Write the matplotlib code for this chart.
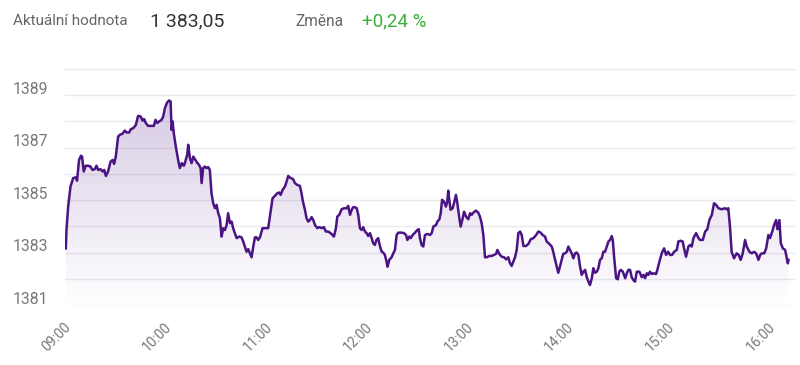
import numpy as np
import matplotlib
matplotlib.use("Agg")
import matplotlib.pyplot as plt
from matplotlib.patches import Polygon
from matplotlib import transforms

# ---- data (minutes after 09:00, index value) ----
minutes = [0, 0.4, 1.4, 2.8, 4.4, 6.0, 6.7, 7.9, 9.0, 9.7, 10.7, 11.9, 13.3, 14.7, 15.9, 17.3, 18.3, 19.3, 20.7, 21.9,
           22.9, 23.9, 25.2, 26.7, 27.9, 28.8, 29.8, 31.2, 32.2, 33.8, 35.2, 36.2, 37.8, 38.8, 40.2, 41.8, 43.1, 44.6, 45.8, 46.7,
           47.7, 49.1, 51.1, 52.5, 53.5, 54.5, 55.7, 57.1, 58.1, 59.1, 60.4, 61.6, 62.5, 63.1, 63.7, 64.4, 65.6, 67.0, 68.0, 69.2,
           70.4, 71.0, 72.4, 73.0, 74.0, 75.0, 76.0, 77.0, 78.3, 79.5, 80.4, 81.0, 81.9, 82.9, 83.9, 84.9, 85.9, 86.9, 87.9, 88.9,
           89.9, 90.9, 91.9, 92.9, 93.9, 94.9, 95.9, 96.8, 97.9, 98.9, 99.8, 100.8, 101.9, 103.4, 104.8, 105.8, 106.8, 107.8, 108.8, 109.8,
           110.8, 111.8, 112.8, 113.8, 114.7, 115.8, 117.3, 118.7, 120.7, 121.7, 123.3, 124.7, 126.1, 127.3, 128.1, 129.3, 130.7, 131.7, 132.6, 134.1,
           135.6, 136.6, 138.0, 139.6, 140.6, 141.2, 142.6, 143.6, 144.6, 145.6, 146.6, 147.6, 148.6, 150.0, 151.2, 152.6, 153.9, 155.1, 156.5, 157.9,
           159.1, 159.9, 161.1, 161.9, 163.1, 164.5, 165.9, 167.5, 168.4, 169.5, 170.5, 171.4, 172.4, 173.5, 174.4, 175.4, 176.4, 177.4, 178.4, 179.4,
           180.4, 181.4, 182.4, 183.3, 184.3, 185.3, 186.3, 187.4, 188.4, 189.3, 190.3, 191.3, 191.9, 192.9, 194.3, 195.3, 196.3, 197.3, 198.3, 200.3,
           201.7, 202.9, 203.7, 204.9, 205.7, 206.9, 208.3, 209.6, 210.5, 211.2, 212.2, 213.2, 214.2, 215.6, 217.2, 218.2, 219.2, 220.8, 221.6, 222.8,
           223.6, 224.4, 225.6, 226.7, 227.5, 228.1, 228.7, 229.5, 230.7, 231.5, 232.7, 233.5, 234.7, 235.5, 236.7, 237.5, 238.7, 240.0, 241.1, 242.1,
           243.0, 244.6, 246.0, 247.0, 248.0, 249.0, 250.0, 251.0, 252.6, 254.0, 255.4, 256.6, 257.4, 258.5, 260.0, 261.4, 262.6, 263.9, 264.9, 265.9,
           266.9, 267.9, 268.9, 269.9, 270.9, 271.9, 272.9, 274.5, 275.9, 277.3, 278.9, 280.5, 281.8, 283.2, 284.4, 285.8, 286.8, 288.4, 289.8, 290.7,
           291.8, 292.8, 293.7, 294.7, 295.7, 296.7, 297.7, 298.8, 299.7, 300.7, 301.7, 302.7, 303.7, 304.7, 305.7, 306.7, 307.7, 308.7, 309.7, 310.7,
           311.7, 312.6, 313.7, 314.6, 315.6, 316.7, 317.6, 318.6, 319.6, 320.6, 321.6, 322.6, 323.6, 324.6, 325.6, 326.2, 327.0, 328.2, 329.2, 330.1,
           331.0, 332.2, 333.6, 334.6, 335.5, 336.5, 337.5, 338.5, 339.5, 340.5, 342.1, 343.5, 344.5, 345.5, 346.5, 347.4, 348.4, 349.4, 350.4, 352.0,
           352.8, 354.0, 355.4, 356.8, 358.0, 359.2, 360.4, 361.6, 362.8, 364.4, 365.3, 366.7, 367.9, 368.7, 369.9, 371.3, 372.3, 373.3, 374.3, 375.9,
           377.3, 378.3, 379.9, 381.3, 382.6, 383.8, 385.3, 386.6, 387.8, 389.2, 391.2, 393.2, 394.2, 395.1, 396.1, 397.1, 398.5, 400.1, 401.3, 402.5,
           403.7, 405.1, 406.1, 407.7, 409.1, 410.5, 411.7, 413.1, 414.1, 415.1, 416.5, 417.7, 419.0, 420.0, 421.6, 422.4, 423.6, 424.4, 425.6, 426.4,
           427.6, 429.0, 430.0, 430.6, 431.0]

values = [1383.16, 1383.86, 1384.75, 1385.52, 1385.84, 1385.87, 1385.74, 1386.53, 1386.69, 1386.66, 1386.09, 1386.31, 1386.31, 1386.28, 1386.15, 1386.18, 1386.31, 1386.15, 1386.18, 1386.09,
          1386.15, 1385.92, 1386.09, 1386.47, 1386.53, 1386.38, 1386.66, 1387.42, 1387.49, 1387.53, 1387.65, 1387.58, 1387.58, 1387.71, 1387.74, 1387.87, 1388.21, 1388.19, 1388.03, 1388.09,
          1387.94, 1387.83, 1387.83, 1387.83, 1388.06, 1387.94, 1388.00, 1388.06, 1388.19, 1388.51, 1388.72, 1388.80, 1388.76, 1387.68, 1388.00, 1387.55, 1387.04, 1386.53, 1386.22, 1386.41,
          1386.31, 1386.41, 1386.73, 1387.11, 1386.60, 1386.41, 1386.66, 1386.56, 1386.43, 1386.34, 1386.22, 1385.65, 1386.22, 1386.28, 1386.22, 1386.26, 1386.15, 1385.26, 1384.88, 1384.69,
          1384.82, 1384.50, 1384.31, 1383.61, 1383.93, 1383.86, 1384.05, 1384.50, 1384.12, 1384.18, 1383.93, 1383.74, 1383.55, 1383.61, 1383.58, 1383.42, 1383.23, 1383.03, 1383.13, 1382.97,
          1382.82, 1383.23, 1383.58, 1383.58, 1383.48, 1383.58, 1383.93, 1383.93, 1383.93, 1384.37, 1385.07, 1385.16, 1385.26, 1385.29, 1385.20, 1385.39, 1385.52, 1385.71, 1385.92, 1385.84,
          1385.80, 1385.65, 1385.58, 1385.54, 1385.26, 1385.01, 1384.63, 1384.31, 1384.18, 1384.24, 1384.35, 1384.24, 1384.05, 1383.93, 1383.97, 1383.93, 1383.97, 1383.80, 1383.80, 1383.74,
          1383.67, 1383.61, 1383.93, 1384.37, 1384.44, 1384.65, 1384.69, 1384.69, 1384.78, 1384.44, 1384.63, 1384.73, 1384.73, 1384.69, 1384.44, 1383.93, 1383.86, 1383.97, 1383.80, 1383.74,
          1383.63, 1383.74, 1383.55, 1383.36, 1383.29, 1383.48, 1383.55, 1383.23, 1383.03, 1383.00, 1382.91, 1382.65, 1382.46, 1382.72, 1382.82, 1382.97, 1383.10, 1383.67, 1383.76, 1383.76,
          1383.74, 1383.67, 1383.48, 1383.61, 1383.55, 1383.67, 1383.76, 1383.86, 1383.89, 1383.55, 1383.29, 1383.23, 1383.67, 1383.71, 1383.67, 1383.74, 1383.99, 1384.05, 1384.18, 1384.27,
          1384.50, 1385.01, 1384.94, 1384.75, 1384.94, 1385.36, 1385.01, 1384.63, 1384.69, 1384.88, 1385.20, 1384.88, 1384.31, 1383.99, 1384.31, 1384.56, 1384.37, 1384.27, 1384.50, 1384.44,
          1384.52, 1384.60, 1384.52, 1384.37, 1384.12, 1383.67, 1382.82, 1382.82, 1382.87, 1382.87, 1382.91, 1382.95, 1383.10, 1382.95, 1382.84, 1382.82, 1382.74, 1382.82, 1382.59, 1382.49,
          1382.65, 1382.82, 1383.10, 1383.74, 1383.80, 1383.67, 1383.25, 1383.25, 1383.33, 1383.51, 1383.55, 1383.67, 1383.80, 1383.76, 1383.67, 1383.61, 1383.42, 1383.33, 1383.23, 1383.03,
          1382.72, 1382.46, 1382.23, 1382.46, 1382.72, 1382.95, 1382.97, 1383.03, 1383.23, 1383.10, 1382.97, 1382.78, 1382.97, 1383.00, 1382.91, 1382.46, 1382.15, 1382.27, 1382.34, 1382.06,
          1381.89, 1381.76, 1382.02, 1382.40, 1382.23, 1382.27, 1382.40, 1382.72, 1382.78, 1383.03, 1383.03, 1383.23, 1383.42, 1383.48, 1383.63, 1383.48, 1382.84, 1382.02, 1381.98, 1382.27,
          1382.34, 1382.27, 1382.02, 1382.21, 1382.34, 1382.34, 1382.06, 1381.95, 1381.89, 1382.27, 1382.27, 1382.06, 1382.15, 1382.02, 1382.21, 1382.15, 1382.27, 1382.18, 1382.21, 1382.18,
          1382.34, 1382.65, 1382.97, 1383.16, 1382.91, 1383.03, 1382.91, 1382.91, 1383.03, 1383.10, 1383.42, 1383.45, 1383.42, 1383.16, 1382.84, 1383.23, 1383.29, 1383.23, 1383.55, 1383.74,
          1383.55, 1383.48, 1383.48, 1383.80, 1383.89, 1384.24, 1384.44, 1384.88, 1384.82, 1384.69, 1384.65, 1384.69, 1384.65, 1384.69, 1383.99, 1383.03, 1382.78, 1382.97, 1382.91, 1382.72,
          1382.97, 1383.48, 1383.23, 1383.03, 1382.97, 1383.03, 1382.97, 1382.72, 1382.91, 1382.97, 1382.97, 1383.16, 1383.67, 1383.55, 1383.86, 1384.05, 1384.24, 1383.89, 1384.24, 1383.36,
          1383.16, 1383.10, 1382.78, 1382.59, 1382.72]

tick_minutes = [0, 60, 120, 180, 240, 300, 360, 420]
tick_labels = ["09:00", "10:00", "11:00", "12:00", "13:00", "14:00", "15:00", "16:00"]
y_grid = [1381, 1382, 1383, 1384, 1385, 1386, 1387, 1388, 1389, 1390]
y_labels = ["1381", "", "1383", "", "1385", "", "1387", "", "1389", ""]

header_label = "Aktuální hodnota"
header_value = "1 383,05"
change_label = "Změna"
change_value = "+0,24 %"

# ---- style ----
plt.rcParams['font.family'] = ['Roboto', 'DejaVu Sans']
line_color = "#4b1484"
grid_color = "#e9e9ef"
text_grey = "#777777"

fig = plt.figure(figsize=(8.0, 3.65), dpi=100)
fig.patch.set_facecolor("white")
ax = fig.add_axes([0.081, 0.1644, 0.913, 0.6466])
ax.set_facecolor("white")

x = np.array(minutes)
y = np.array(values)
ymin, ymax = 1381, 1390
ax.set_xlim(-0.6, 435)
ax.set_ylim(ymin, ymax)

# gradient fill under the line
verts = np.vstack([np.column_stack([x, y]), [[x[-1], ymin], [x[0], ymin]]])
poly = Polygon(verts, closed=True, facecolor="none", edgecolor="none")
ax.add_patch(poly)
n = 256
alpha = np.linspace(0.0, 0.27, n)  # bottom -> top
grad = np.zeros((n, 1, 4))
grad[:, 0, 0] = 100 / 255
grad[:, 0, 1] = 50 / 255
grad[:, 0, 2] = 150 / 255
grad[:, 0, 3] = alpha
im = ax.imshow(grad, extent=[x[0], x[-1], ymin, 1389.2], origin="lower",
               aspect="auto", zorder=1, interpolation="bilinear")
im.set_clip_path(poly)

ax.plot(x, y, color=line_color, lw=1.8, zorder=3, solid_joinstyle="round")

# grid & axes
ax.set_yticks(y_grid)
ax.set_yticklabels(y_labels)
ax.grid(axis="y", color=grid_color, lw=1.0, zorder=0)
ax.set_axisbelow(True)
for s in ax.spines.values():
    s.set_visible(False)
ax.tick_params(axis="y", length=0, pad=12, labelsize=11.3, labelcolor=text_grey)
offset = transforms.ScaledTranslation(0, -1.2 / 72, fig.dpi_scale_trans)
for lab in ax.get_yticklabels():
    lab.set_verticalalignment("bottom")
    lab.set_transform(lab.get_transform() + offset)

ax.set_xticks(tick_minutes)
ax.set_xticklabels(tick_labels, rotation=45, ha="right", va="top", rotation_mode="anchor")
ax.tick_params(axis="x", length=0, pad=11, labelsize=10, labelcolor=text_grey)
offx = transforms.ScaledTranslation(-1.5 / 72, 0, fig.dpi_scale_trans)
for lab in ax.get_xticklabels():
    lab.set_transform(lab.get_transform() + offx)

# header
yh = 1 - 21 / 365
fig.text(13 / 800, yh, header_label, fontsize=11, color="#666666", va="center", ha="left")
fig.text(150 / 800, yh, header_value, fontsize=14, color="#333333", va="center", ha="left")
fig.text(295 / 800, yh, change_label, fontsize=11.2, color="#666666", va="center", ha="left")
fig.text(362 / 800, yh, change_value, fontsize=13.5, color="#3dae3d", va="center", ha="left")

fig.savefig("out.png", dpi=100, facecolor="white")
